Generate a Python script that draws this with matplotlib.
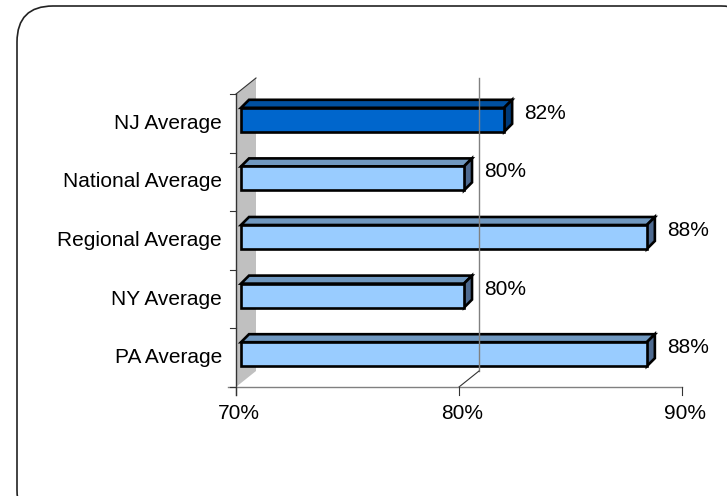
"""3D-style horizontal bar chart: state / regional averages (percent)."""

import matplotlib
matplotlib.use("Agg")
import matplotlib.pyplot as plt
from matplotlib.patches import Polygon, FancyBboxPatch

plt.rcParams["font.family"] = ["Liberation Sans", "DejaVu Sans"]

# data, bottom to top
categories = ["PA Average", "NY Average", "Regional Average", "National Average", "NJ Average"]
values = [88.2, 80.0, 88.2, 80.0, 81.8]
highlight = [False, False, False, False, True]
x_ticks = [70, 80, 90]
x_tick_labels = ["70%", "80%", "90%"]

W, H = 727, 496
fig = plt.figure(figsize=(W / 100, H / 100), dpi=100)

# rounded frame round the whole chart (pixel coords)
bg = fig.add_axes([0, 0, 1, 1])
bg.set_xlim(0, W)
bg.set_ylim(H, 0)
bg.axis("off")
bg.add_patch(FancyBboxPatch((17, 6), 740, 520, boxstyle="round,pad=0,rounding_size=36",
                            fc="white", ec="#222222", lw=1.2))

# front plane of the plot: 70..90 on x, 5 category slots on y
x0_px, x1_px, top_px, bot_px = 236, 682, 94, 387
ax = fig.add_axes([x0_px / W, 1 - bot_px / H, (x1_px - x0_px) / W, (bot_px - top_px) / H])
ax.set_xlim(70, 90)
ax.set_ylim(0, len(categories))
ax.axis("off")

ux = 20 / (x1_px - x0_px)          # data units per pixel
uy = len(categories) / (bot_px - top_px)

wall_dx, wall_dy = 20 * ux, 16 * uy     # depth of the 3D box
bar_off_x, bar_off_y = 5 * ux, 3.5 * uy  # bars sit a bit behind the front plane
bar_dx, bar_dy = 8 * ux, 8 * uy          # depth of each bar
bar_h = 24 * uy

grey = "#808080"

# left wall
ax.add_patch(Polygon([(70, 0), (70 + wall_dx, wall_dy), (70 + wall_dx, 5 + wall_dy), (70, 5)],
                     closed=True, fc="#C0C0C0", ec="none", clip_on=False))
ax.plot([70, 70 + wall_dx], [5, 5 + wall_dy], color="#333333", lw=0.8, clip_on=False)
ax.plot([70, 70], [-8 * uy, 5], color="#333333", lw=1.0, clip_on=False)

# back gridline at 80% + floor diagonal
ax.plot([80 + wall_dx, 80 + wall_dx], [wall_dy, 5 + wall_dy], color=grey, lw=1.0, clip_on=False)
ax.plot([80, 80 + wall_dx], [0, wall_dy], color="#333333", lw=0.8, clip_on=False)

# x axis line, ticks and labels
ax.plot([70 - 8 * ux, 90], [0, 0], color=grey, lw=1.0, clip_on=False)
for t, lab in zip(x_ticks, x_tick_labels):
    ax.plot([t, t], [0, -8 * uy], color="#333333", lw=0.8, clip_on=False)
    ax.text(t + 3 * ux, -17 * uy, lab, ha="center", va="top", fontsize=15)

# y ticks and category labels
for i in range(len(categories) + 1):
    ax.plot([70 - 6 * ux, 70], [i, i], color="#333333", lw=0.8, clip_on=False)
for i, name in enumerate(categories):
    ax.text(70 - 14 * ux, i + 0.5, name, ha="right", va="center", fontsize=15)

# bars
for i, (v, hl) in enumerate(zip(values, highlight)):
    if hl:
        front, top, side = "#0066CC", "#0050A0", "#003A78"
    else:
        front, top, side = "#99CCFF", "#7098C0", "#4E6A90"
    xs = 70 + bar_off_x
    xe = v + bar_off_x
    yb = i + 0.5 - bar_h / 2 + bar_off_y
    yt = yb + bar_h
    kw = dict(closed=True, ec="black", lw=1.9, joinstyle="miter", clip_on=False)
    ax.add_patch(Polygon([(xs, yt), (xe, yt), (xe + bar_dx, yt + bar_dy), (xs + bar_dx, yt + bar_dy)],
                         fc=top, **kw))
    ax.add_patch(Polygon([(xe, yb), (xe, yt), (xe + bar_dx, yt + bar_dy), (xe + bar_dx, yb + bar_dy)],
                         fc=side, **kw))
    ax.add_patch(Polygon([(xs, yb), (xe, yb), (xe, yt), (xs, yt)], fc=front, **kw))
    ax.annotate(f"{v:.0f}%", xy=(xe + bar_dx, i + 0.5), xytext=(12, 10),
                textcoords="offset pixels", ha="left", va="center", fontsize=15,
                annotation_clip=False)

fig.savefig("out.png", dpi=100)
